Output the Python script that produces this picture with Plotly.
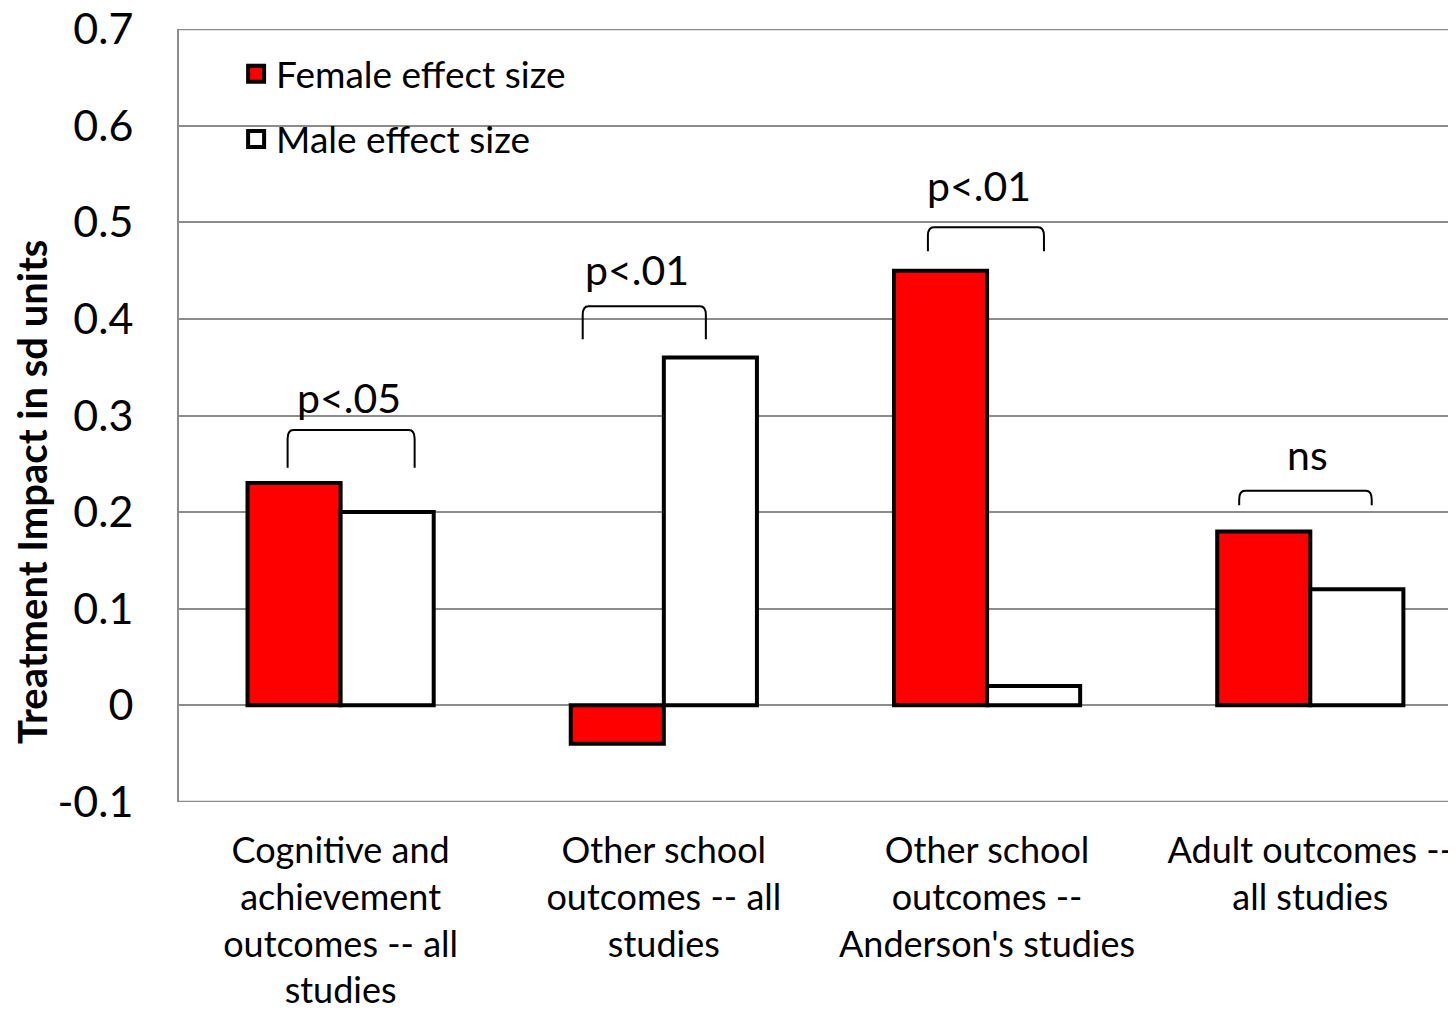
import plotly.graph_objects as go

# ---- data ----
categories = [
    "Cognitive and<br>achievement<br>outcomes -- all<br>studies",
    "Other school<br>outcomes -- all<br>studies",
    "Other school<br>outcomes --<br>Anderson's studies",
    "Adult outcomes --<br>all studies",
]
female = [0.23, -0.04, 0.45, 0.18]
male = [0.20, 0.36, 0.02, 0.12]
sig_labels = ["p<.05", "p<.01", "p<.01", "ns"]
# bracket geometry (category units / value units)
br_left = [-0.164, -0.251, -0.183, -0.220]
br_right = [0.229, 0.130, 0.176, 0.190]
br_top = [0.285, 0.413, 0.495, 0.222]
br_bottom = [0.246, 0.379, 0.470, 0.207]
lab_dx = [0.025, -0.082, -0.026, -0.008]
lab_y = [0.319, 0.451, 0.538, 0.260]
y_min, y_max = -0.1, 0.7
y_ticks = [-0.1, 0, 0.1, 0.2, 0.3, 0.4, 0.5, 0.6, 0.7]
y_ticktext = ["-0.1", "0", "0.1", "0.2", "0.3", "0.4", "0.5", "0.6", "0.7"]

FONT = "Lato"
GRID = "#8c8c8c"
xs = list(range(len(categories)))

fig = go.Figure()
fig.add_trace(go.Bar(x=xs, y=female, name="Female effect size",
                     marker=dict(color="#FF0000", line=dict(color="black", width=4)),
                     showlegend=False))
fig.add_trace(go.Bar(x=xs, y=male, name="Male effect size",
                     marker=dict(color="white", line=dict(color="black", width=4)),
                     showlegend=False))
# legend entries
fig.add_trace(go.Scatter(x=[None], y=[None], mode="markers", name="Female effect size",
                         legendgroup="f",
                         marker=dict(symbol="square", size=20, color="#FF0000",
                                     line=dict(color="black", width=4))))
fig.add_trace(go.Scatter(x=[None], y=[None], mode="markers", name="Male effect size",
                         legendgroup="m",
                         marker=dict(symbol="square", size=20, color="white",
                                     line=dict(color="black", width=4))))

shapes = []
annotations = []
# frame lines at the top and bottom of the value range
for yv in (y_min, y_max):
    shapes.append(dict(type="line", xref="paper", x0=0, x1=1, yref="y", y0=yv, y1=yv,
                       line=dict(color=GRID, width=2), layer="below"))
ex, ey = 0.018, 0.009
for i in xs:
    xl = i + br_left[i]
    xr = i + br_right[i]
    yt = br_top[i]
    yb = br_bottom[i]
    path = (f"M{xl},{yb} L{xl},{yt-ey} Q{xl},{yt} {xl+ex},{yt} "
            f"L{xr-ex},{yt} Q{xr},{yt} {xr},{yt-ey} L{xr},{yb}")
    shapes.append(dict(type="path", path=path, xref="x", yref="y",
                       line=dict(color="black", width=2)))
    annotations.append(dict(x=i + lab_dx[i], y=lab_y[i], xref="x", yref="y",
                            text=sig_labels[i], showarrow=False,
                            font=dict(family=FONT, size=41, color="black")))

annotations.append(dict(text="<b>Treatment Impact in sd units</b>", textangle=-90,
                        xref="paper", yref="paper", x=0, y=0.401, xanchor="center",
                        yanchor="middle", xshift=-147, showarrow=False,
                        font=dict(family=FONT, size=40, color="black")))

fig.update_layout(
    width=1440, height=1002,
    margin=dict(l=171, r=0, t=21, b=208),
    paper_bgcolor="white", plot_bgcolor="white",
    barmode="group", bargap=0.424, bargroupgap=0,
    font=dict(family=FONT, color="black"),
    shapes=shapes, annotations=annotations,
    legend=dict(x=0.045, y=0.9815, xanchor="left", yanchor="top",
                font=dict(family=FONT, size=37, color="black"),
                bgcolor="rgba(0,0,0,0)", tracegroupgap=14,
                traceorder="grouped"),
    xaxis=dict(range=[-0.5, 3.426], tickvals=xs, ticktext=categories,
               showgrid=False, zeroline=False, showline=False, ticks="",
               tickfont=dict(family=FONT, size=36, color="black"),
               ticklabelstandoff=24, automargin=False, ticklabeloverflow="allow"),
    yaxis=dict(range=[y_min - 0.0002, y_max + 0.0002], tickvals=y_ticks,
               ticktext=y_ticktext,
               showgrid=True, gridcolor=GRID, gridwidth=2,
               zeroline=False, showline=True, linecolor=GRID, linewidth=2,
               ticks="", tickfont=dict(family=FONT, size=43, color="black"),
               ticklabelstandoff=35, automargin=False, ticklabeloverflow="allow"),
)

fig.write_html("out.html")
